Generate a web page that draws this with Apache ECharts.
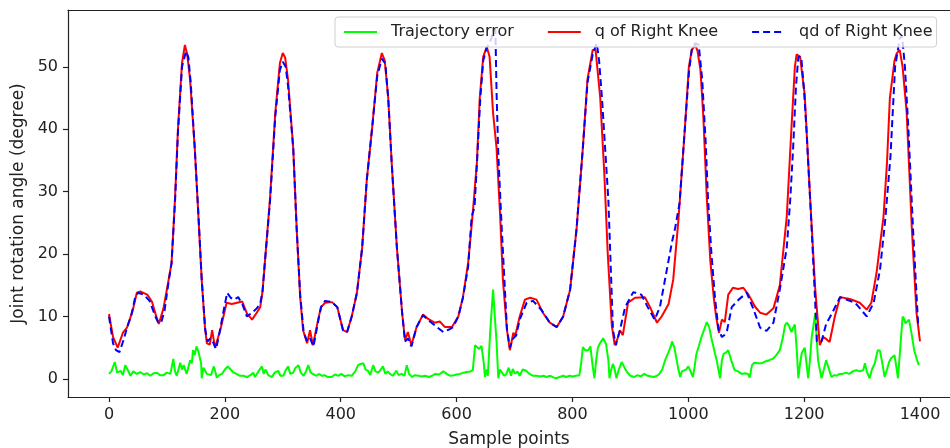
<!DOCTYPE html>
<html>
<head>
<meta charset="utf-8">
<script src="https://cdn.jsdelivr.net/npm/echarts@6/dist/echarts.min.js"></script>
<style>
html,body{margin:0;padding:0;background:#fff;}
#chart{width:950px;height:448px;}
</style>
</head>
<body>
<div id="chart"></div>
<script>
// ---- data ----
var xTicks = [0, 200, 400, 600, 800, 1000, 1200, 1400];
var yTicks = [0, 10, 20, 30, 40, 50];

var errX = [0,4,10,14,20,24,28,32,37,42,48,54,60,66,71,77,83,88,94,100,106,111,114,117,123,126,129,134,140,143,145,148,151,154,157,159,160,163,166,169,172,176,181,184,186,190,195,200,205,210,214,220,226,232,238,244,249,252,255,260,264,267,270,275,281,286,292,296,301,305,309,313,318,322,327,331,336,340,344,348,352,358,363,367,372,378,384,390,396,401,407,413,419,425,430,434,439,443,447,451,456,460,465,469,473,477,481,485,490,496,500,505,510,514,518,523,528,534,540,546,552,558,563,570,577,583,589,595,600,606,612,618,624,628,632,635,639,643,647,649,652,654,658,663,666,669,672,675,678,682,686,690,694,697,701,705,709,714,720,726,732,738,745,750,755,762,768,772,778,784,789,795,800,806,812,815,818,822,827,831,835,838,841,844,848,853,858,862,864,867,870,873,876,880,885,890,895,900,907,912,918,924,930,936,941,946,950,955,960,965,969,972,976,980,983,986,989,992,996,1000,1004,1008,1011,1014,1018,1022,1027,1032,1036,1040,1045,1049,1052,1055,1058,1061,1065,1069,1074,1080,1086,1092,1098,1103,1106,1110,1114,1120,1126,1133,1140,1147,1152,1158,1163,1167,1170,1174,1178,1181,1184,1187,1190,1193,1196,1201,1204,1207,1210,1213,1216,1219,1222,1224,1227,1230,1234,1238,1241,1244,1247,1252,1256,1261,1266,1272,1278,1284,1290,1296,1302,1305,1308,1313,1317,1322,1327,1331,1335,1339,1343,1347,1350,1356,1359,1362,1366,1370,1373,1375,1378,1381,1385,1390,1395,1398];
var errY = [0.8,1.2,2.7,1,1.3,0.6,2.2,1.5,0.5,1.2,0.8,1.1,0.7,0.9,0.5,0.9,1,0.6,0.6,1,0.8,3.2,1.2,0.5,2.6,1.5,2.2,0.8,3,2.5,4.6,3.8,5.2,4.5,4.5,2.5,0.1,1.8,2,0.8,1,0.6,2,1,0.2,0.6,0.8,1.5,2,1.5,1.1,0.8,0.5,0.5,0.3,0.6,1,0.3,0.5,1.5,2,0.8,1.5,0.6,0.3,1,1.3,0.5,0.5,1.4,2,0.8,1,1.8,2.2,1,0.5,1.2,2.2,1,0.8,0.5,0.8,0.5,0.6,0.3,0.3,0.7,0.5,0.8,0.4,0.6,0.5,1.2,2.2,2.4,2.5,1.5,1.3,0.6,2.2,1.2,1,1.5,2,0.8,1.2,0.8,0.5,1.3,0.6,0.8,0.5,2.2,0.8,0.3,0.6,0.5,0.4,0.5,0.3,0.5,0.8,0.7,1.2,0.8,0.5,0.6,0.7,0.8,1,1.1,1.2,1.4,5.4,5.7,4.8,5.3,2.5,0.3,1.5,0.5,7.5,14.3,10,6,0.1,1.5,1.4,0.5,0.8,1.8,0.5,1.6,0.8,1.2,0.5,1.5,1.3,0.8,0.5,0.5,0.4,0.5,0.3,0.5,0.2,0.1,0.3,0.5,0.3,0.5,0.4,0.5,0.6,2.5,5.1,4.6,4.6,5.2,2,0.1,3,5,5.8,6.5,5.6,3,0.1,1.5,2.4,1.5,0.1,1.5,2.7,1.8,1,0.5,0.3,0.6,0.4,0.8,0.5,0.4,0.3,0.5,0.8,1.5,3,4.1,5,6,5,3,1.5,0.3,1.2,1.4,1.5,2,1.2,0.3,2,4,5.2,6.5,7.8,9.1,8.3,6.5,4.5,3,1.5,0.1,3,4,4.2,4.6,3,1.4,1.2,0.8,0.9,0.8,0.2,2.2,2.6,2.5,2.5,2.8,3,3.3,3.8,4.6,6.5,8.6,9,8.5,7.5,8.2,8.7,5,0.1,2.5,4.2,5,2.5,0.1,3,6.6,8.5,10.5,6,3,1.5,0.1,1.5,3,3,1.2,0.3,0.6,0.5,0.8,0.8,1,0.8,1.2,1.4,1.2,1.4,2.5,1.2,0.1,1.5,2.5,4.6,4.5,2.5,0.3,1.5,2.8,3.3,3.8,2,0.1,5,10,9.5,8.9,9.2,9.5,7.5,4.6,3,2.2];

var qX = [0,7,10,15,24,31,41,48,54,66,74,80,86,94,102,108,114,119,126,131,135,140,148,154,160,166,169,174,178,183,192,203,212,221,230,238,247,255,261,265,269,278,287,295,300,304,309,318,324,330,335,342,347,352,361,366,373,385,394,404,411,419,428,437,445,454,463,471,476,482,488,497,506,511,516,522,531,542,551,562,571,580,592,603,611,620,628,635,640,646,652,657,663,669,675,680,687,692,698,701,709,718,727,738,749,761,773,784,796,807,818,826,835,840,848,855,861,868,873,878,882,887,896,908,925,934,946,954,966,974,983,994,1001,1006,1012,1016,1021,1026,1032,1038,1044,1048,1053,1058,1063,1069,1077,1086,1095,1104,1115,1124,1135,1147,1158,1170,1178,1184,1187,1193,1201,1210,1219,1227,1233,1238,1244,1253,1262,1279,1296,1308,1316,1325,1337,1343,1348,1356,1360,1365,1370,1377,1386,1394,1400];
var qY = [10.4,6.7,7,5,7.4,8.2,11,13.8,14,13.5,12.4,10.5,8.8,11.3,15.4,18.6,29,40,50.6,53.5,52,47.9,37,26.6,15.9,7.8,5.7,5.5,7.8,5,7.8,12.2,12,12.2,12.4,10.5,9.5,10.6,11.5,14,18.6,29,42.6,50.6,52.2,51.5,48,37,24,13.1,7.8,5.7,7.8,5.4,9.5,11.5,12.2,12.3,11.5,7.8,7.5,10,13.8,21,31.9,40,49,52.2,51,45,34.6,21,10.6,6.2,7.5,5.4,8.3,10.3,9.6,9,9.2,8.3,8.3,10,13.1,18.6,26.6,34.6,45,51.6,53.2,51.6,42.6,37,26.6,15.9,7.8,4.6,7.4,6.8,10,12.7,13,12.7,10.6,9,8.3,10,14.3,23.9,37,48,52.7,52.7,45,33,20,8.5,5.4,6.5,7.8,7,12.2,13,13.1,11.5,9,10,12,15.9,25.5,40,50,52.7,53.5,52.5,49.5,42,29,19,13,10,7.4,9.5,9.1,13.5,14.6,14.4,14.6,13.5,11.6,10.6,10.3,11.3,15,26,40,50,52,51.6,45.5,29.5,14.6,5.4,6.7,6.4,5.9,10,13.1,12.8,12.2,11.1,12.2,17,26,34.6,45,51,52.2,52.7,50,42.7,24,10.6,6];

var qdX = [0,7,12,18,25,32,38,45,50,60,70,80,85,90,96,102,108,114,119,126,133,137,141,148,154,160,166,170,175,179,185,192,198,204,210,216,223,230,238,247,255,261,265,269,278,287,295,300,305,309,318,324,330,336,342,347,353,361,366,373,385,394,404,411,419,428,437,445,454,463,471,477,482,488,497,506,511,516,522,531,542,554,566,577,589,594,603,611,620,626,631,636,641,646,652,658,663,667,669,672,678,687,692,698,703,709,721,732,747,761,773,784,796,807,818,826,835,842,846,851,862,870,875,882,891,905,919,930,942,951,963,972,977,985,994,1001,1006,1012,1018,1024,1030,1034,1040,1046,1052,1058,1062,1067,1075,1087,1101,1112,1124,1135,1147,1158,1170,1176,1181,1186,1190,1195,1200,1204,1213,1219,1222,1230,1238,1247,1262,1273,1288,1299,1308,1320,1331,1340,1349,1357,1365,1369,1374,1380,1388,1397];
var qdY = [10,5.7,4.6,4.3,6.2,8.5,10,13,13.8,13.5,12.5,10,9,9,11,15,18.6,28.5,39.5,50,52.5,51.5,47.5,37,27,16,8,6,6.5,6,4.8,8,11,13.8,13,12.7,13.1,12,10,10.6,11.3,12,14,18.6,28.5,42,49.5,50.8,50,47,37,24,13.5,7.5,6,6.5,5.2,9.2,11.5,12.5,12.3,11.5,7.8,7.5,10,13.8,21,31.9,40,48.5,51.3,50.5,45,34.6,21,10.6,6,6.5,5.2,8.3,10.2,9.2,8.3,7.5,8,8.3,10,13,18,26,27.5,36,45,51,53,54,55.5,56,46,36,24,8,5,6.5,7,9.5,12.2,12.5,11,9,8.3,10,14.3,23.9,37,47.5,52,53.8,51,45,28.7,7.8,5.4,7.8,11.5,13.9,13.5,11.5,9.5,11.5,17.5,22,24,28.2,40,49,52.7,53.8,53.5,48,38,29,20,13.1,8,6.7,7,7.8,11.5,12.7,13.8,11.3,8.2,7.7,9,14.3,21,28.7,37,47,51.6,51.6,46,40,24,12.5,6,6,8.8,10.3,13.1,12.7,12.2,11,10,12.2,17.5,25.5,35.6,50,54.5,55,50,40,24,8.3];

function zip(xs, ys) { return xs.map(function (x, i) { return [x, ys[i]]; }); }
function plain(v) { return String(v); }

var FONT = 'DejaVu Sans';
var chart = echarts.init(document.getElementById('chart'), null, {renderer: 'canvas'});
chart.setOption({
  animation: false,
  backgroundColor: '#fff',
  grid: {left: 68, right: 0, top: 10, bottom: 51, containLabel: false, outerBoundsMode: 'none'},
  legend: {
    left: 335, top: 17,
    padding: [7, 4, 7, 8],
    itemWidth: 33, itemHeight: 16, itemGap: 33,
    backgroundColor: 'rgba(255,255,255,0.8)',
    borderColor: '#d0d0d0', borderWidth: 1, borderRadius: 3,
    itemStyle: {opacity: 0},
    textStyle: {fontFamily: FONT, fontSize: 16, color: '#222', padding: [0, 0, 0, 9]},
    data: ['Trajectory error', 'q of Right Knee', 'qd of Right Knee']
  },
  xAxis: [{
    type: 'value', min: -70.8, max: 1451.8,
    name: 'Sample points', nameLocation: 'middle', nameGap: 34,
    nameTextStyle: {fontFamily: FONT, fontSize: 17, color: '#222'},
    axisLine: {show: true, onZero: false, lineStyle: {color: '#222', width: 1.2}},
    axisTick: {show: true, length: 5, customValues: xTicks, lineStyle: {color: '#222', width: 1.2}},
    axisLabel: {customValues: xTicks, formatter: plain, fontFamily: FONT, fontSize: 16, color: '#222', margin: 10},
    splitLine: {show: false}
  }, {
    type: 'value', position: 'top', min: -70.8, max: 1451.8,
    axisLine: {show: true, onZero: false, lineStyle: {color: '#222', width: 1.2}},
    axisTick: {show: false}, axisLabel: {show: false}, splitLine: {show: false}
  }],
  yAxis: {
    type: 'value', min: -2.9, max: 59.1,
    name: 'Joint rotation angle (degree)', nameLocation: 'middle', nameGap: 40,
    nameTextStyle: {fontFamily: FONT, fontSize: 17, color: '#222'},
    axisLine: {show: true, onZero: false, lineStyle: {color: '#222', width: 1.2}},
    axisTick: {show: true, length: 5, customValues: yTicks, lineStyle: {color: '#222', width: 1.2}},
    axisLabel: {customValues: yTicks, formatter: plain, fontFamily: FONT, fontSize: 16, color: '#222', margin: 10},
    splitLine: {show: false}
  },
  series: [{
    name: 'Trajectory error', type: 'line', symbol: 'none',
    data: zip(errX, errY),
    lineStyle: {color: '#00ff00', width: 2}, itemStyle: {color: '#00ff00'}
  }, {
    name: 'q of Right Knee', type: 'line', symbol: 'none',
    data: zip(qX, qY),
    lineStyle: {color: '#ff0000', width: 2}, itemStyle: {color: '#ff0000'}
  }, {
    name: 'qd of Right Knee', type: 'line', symbol: 'none',
    data: zip(qdX, qdY),
    lineStyle: {color: '#0000ff', width: 2, type: [7, 4]}, itemStyle: {color: '#0000ff'}
  }]
});
</script>
</body>
</html>
